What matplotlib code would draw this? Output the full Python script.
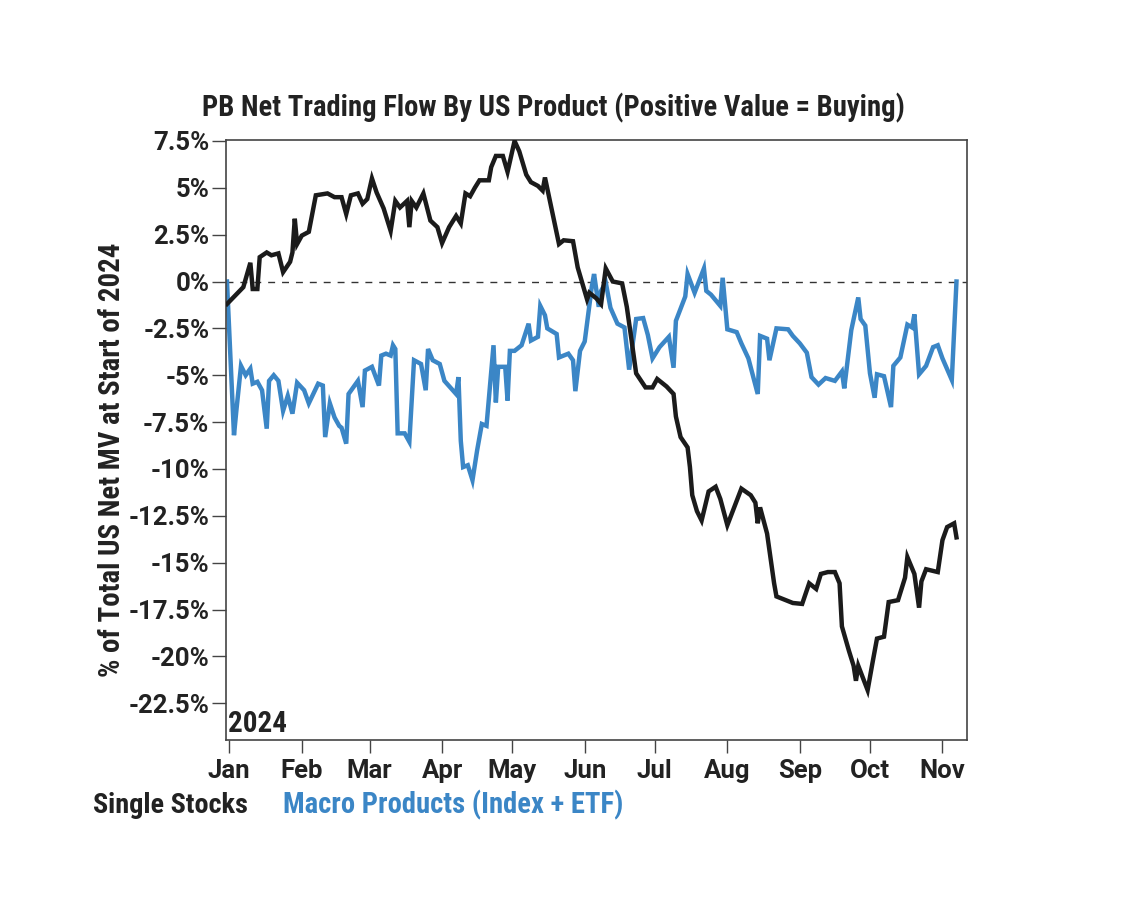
import matplotlib
matplotlib.use("Agg")
import matplotlib.pyplot as plt
import matplotlib.dates as mdates
from matplotlib import font_manager
import pandas as pd

# --- data (% of total US net MV at start of 2024) ---
stock_dates = [
    "2023-12-31", "2024-01-07", "2024-01-10", "2024-01-11", "2024-01-13", "2024-01-14",
    "2024-01-17", "2024-01-19", "2024-01-22", "2024-01-24", "2024-01-27", "2024-01-28",
    "2024-01-29", "2024-01-30", "2024-02-01", "2024-02-04", "2024-02-07", "2024-02-12",
    "2024-02-15", "2024-02-18", "2024-02-20", "2024-02-22", "2024-02-25", "2024-02-27",
    "2024-02-29", "2024-03-02", "2024-03-04", "2024-03-07", "2024-03-10", "2024-03-12",
    "2024-03-14", "2024-03-17", "2024-03-18", "2024-03-19", "2024-03-21", "2024-03-24",
    "2024-03-27", "2024-03-30", "2024-04-01", "2024-04-04", "2024-04-07", "2024-04-09",
    "2024-04-11", "2024-04-13", "2024-04-15", "2024-04-17", "2024-04-21", "2024-04-22",
    "2024-04-24", "2024-04-27", "2024-04-29", "2024-04-30", "2024-05-02", "2024-05-04",
    "2024-05-07", "2024-05-09", "2024-05-12", "2024-05-14", "2024-05-15", "2024-05-21",
    "2024-05-23", "2024-05-27", "2024-05-29", "2024-06-02", "2024-06-03", "2024-06-06",
    "2024-06-08", "2024-06-10", "2024-06-13", "2024-06-17", "2024-06-19", "2024-06-21",
    "2024-06-23", "2024-06-27", "2024-06-30", "2024-07-02", "2024-07-06", "2024-07-09",
    "2024-07-10", "2024-07-12", "2024-07-15", "2024-07-16", "2024-07-17", "2024-07-19",
    "2024-07-21", "2024-07-24", "2024-07-27", "2024-07-29", "2024-08-01", "2024-08-07",
    "2024-08-11", "2024-08-13", "2024-08-14", "2024-08-15", "2024-08-18", "2024-08-20",
    "2024-08-21", "2024-08-22", "2024-08-26", "2024-08-29", "2024-09-02", "2024-09-05",
    "2024-09-08", "2024-09-10", "2024-09-13", "2024-09-16", "2024-09-18", "2024-09-19",
    "2024-09-22", "2024-09-24", "2024-09-25", "2024-09-26", "2024-09-30", "2024-10-02",
    "2024-10-04", "2024-10-07", "2024-10-09", "2024-10-13", "2024-10-16", "2024-10-17",
    "2024-10-20", "2024-10-22", "2024-10-23", "2024-10-25", "2024-10-30", "2024-11-01",
    "2024-11-03", "2024-11-06", "2024-11-07",
]
stock_values = [
    -1.2, -0.3, 1.0, -0.4, -0.4, 1.3,
    1.55, 1.4, 1.5, 0.5, 1.05, 1.55,
    3.35, 2.0, 2.45, 2.65, 4.6, 4.7,
    4.5, 4.5, 3.6, 4.6, 4.7, 4.15,
    4.4, 5.5, 4.75, 3.9, 2.7, 4.3,
    3.95, 4.3, 2.9, 4.3, 3.95, 4.7,
    3.25, 2.9, 2.05, 2.9, 3.5, 3.1,
    4.7, 4.55, 5.0, 5.4, 5.4, 6.1,
    6.7, 6.7, 5.85, 6.4, 7.5, 6.95,
    5.7, 5.3, 5.1, 4.85, 5.55, 2.0,
    2.2, 2.15, 0.75, -0.95, -0.6, -0.9,
    -1.2, 0.7, 0.0, -0.1, -1.35, -3.1,
    -4.9, -5.65, -5.65, -5.2, -5.6, -6.0,
    -7.2, -8.3, -8.85, -9.9, -11.4, -12.25,
    -12.75, -11.2, -10.95, -11.6, -13.0, -11.05,
    -11.4, -11.8, -12.9, -12.05, -13.45, -15.2,
    -16.1, -16.8, -17.0, -17.15, -17.2, -16.1,
    -16.4, -15.6, -15.5, -15.5, -16.1, -18.4,
    -19.7, -20.5, -21.3, -20.5, -21.8, -20.4,
    -19.05, -18.95, -17.1, -17.0, -15.8, -14.7,
    -15.6, -17.4, -16.0, -15.35, -15.5, -13.8,
    -13.1, -12.9, -13.65,
]

macro_dates = [
    "2023-12-31", "2024-01-03", "2024-01-04", "2024-01-06", "2024-01-08", "2024-01-10",
    "2024-01-11", "2024-01-13", "2024-01-15", "2024-01-17", "2024-01-18", "2024-01-20",
    "2024-01-22", "2024-01-24", "2024-01-26", "2024-01-28", "2024-01-30", "2024-02-02",
    "2024-02-04", "2024-02-08", "2024-02-10", "2024-02-11", "2024-02-13", "2024-02-15",
    "2024-02-17", "2024-02-18", "2024-02-20", "2024-02-21", "2024-02-25", "2024-02-27",
    "2024-02-28", "2024-03-02", "2024-03-05", "2024-03-06", "2024-03-08", "2024-03-10",
    "2024-03-11", "2024-03-12", "2024-03-13", "2024-03-16", "2024-03-18", "2024-03-20",
    "2024-03-23", "2024-03-25", "2024-03-26", "2024-03-28", "2024-03-31", "2024-04-02",
    "2024-04-07", "2024-04-08", "2024-04-09", "2024-04-10", "2024-04-12", "2024-04-14",
    "2024-04-16", "2024-04-18", "2024-04-20", "2024-04-23", "2024-04-24", "2024-04-25",
    "2024-04-28", "2024-04-29", "2024-04-30", "2024-05-02", "2024-05-05", "2024-05-08",
    "2024-05-09", "2024-05-12", "2024-05-13", "2024-05-15", "2024-05-16", "2024-05-20",
    "2024-05-21", "2024-05-25", "2024-05-27", "2024-05-28", "2024-05-30", "2024-06-01",
    "2024-06-04", "2024-06-05", "2024-06-07", "2024-06-08", "2024-06-10", "2024-06-12",
    "2024-06-15", "2024-06-18", "2024-06-20", "2024-06-23", "2024-06-26", "2024-06-28",
    "2024-06-30", "2024-07-03", "2024-07-07", "2024-07-09", "2024-07-10", "2024-07-14",
    "2024-07-15", "2024-07-18", "2024-07-22", "2024-07-23", "2024-07-25", "2024-07-29",
    "2024-07-30", "2024-08-01", "2024-08-05", "2024-08-07", "2024-08-10", "2024-08-14",
    "2024-08-15", "2024-08-18", "2024-08-19", "2024-08-22", "2024-08-27", "2024-08-29",
    "2024-09-01", "2024-09-04", "2024-09-06", "2024-09-09", "2024-09-12", "2024-09-16",
    "2024-09-19", "2024-09-20", "2024-09-23", "2024-09-26", "2024-09-27", "2024-09-29",
    "2024-10-01", "2024-10-03", "2024-10-04", "2024-10-07", "2024-10-10", "2024-10-11",
    "2024-10-14", "2024-10-17", "2024-10-19", "2024-10-20", "2024-10-22", "2024-10-25",
    "2024-10-28", "2024-10-30", "2024-11-01", "2024-11-05", "2024-11-07",
]
macro_values = [
    0.0, -8.2, -6.9, -4.5, -5.0, -4.65,
    -5.45, -5.35, -5.8, -7.85, -5.3, -5.0,
    -5.3, -6.9, -6.1, -7.05, -5.4, -5.8,
    -6.5, -5.45, -5.55, -8.3, -6.5, -7.25,
    -7.7, -7.8, -8.65, -6.0, -5.3, -6.7,
    -4.75, -4.55, -5.55, -3.95, -3.85, -3.95,
    -3.4, -3.6, -8.1, -8.1, -8.55, -4.2,
    -4.4, -5.8, -3.6, -4.2, -4.4, -5.3,
    -6.0, -5.1, -8.5, -9.9, -9.8, -10.6,
    -9.0, -7.6, -7.7, -3.4, -6.45, -4.55,
    -4.55, -6.35, -3.7, -3.7, -3.4, -2.25,
    -3.15, -2.95, -1.3, -1.8, -2.5, -2.8,
    -4.05, -3.85, -4.2, -5.85, -3.7, -3.2,
    -0.3, 0.4, -1.35, -0.5, -0.05, -1.4,
    -2.25, -2.45, -4.7, -2.0, -1.95, -2.85,
    -4.1, -3.5, -2.95, -4.6, -2.1, -0.8,
    0.4, -0.6, 0.7, -0.5, -0.7, -1.3,
    0.2, -2.55, -2.7, -3.3, -4.1, -6.0,
    -2.9, -3.05, -4.2, -2.5, -2.55, -2.9,
    -3.3, -3.8, -5.1, -5.5, -5.15, -5.3,
    -4.8, -5.7, -2.6, -0.85, -2.0, -2.35,
    -4.9, -6.2, -4.95, -5.05, -6.7, -4.5,
    -4.05, -2.3, -2.45, -1.75, -4.95, -4.5,
    -3.5, -3.4, -4.1, -5.25, 0.0,
]

y_ticks = [7.5, 5, 2.5, 0, -2.5, -5, -7.5, -10, -12.5, -15, -17.5, -20, -22.5]
y_tick_labels = ["7.5%", "5%", "2.5%", "0%", "-2.5%", "-5%", "-7.5%", "-10%",
                 "-12.5%", "-15%", "-17.5%", "-20%", "-22.5%"]
month_ticks = ["2024-01-01", "2024-02-01", "2024-03-01", "2024-04-01", "2024-05-01",
               "2024-06-01", "2024-07-01", "2024-08-01", "2024-09-01", "2024-10-01",
               "2024-11-01"]

BLACK = "#1b1b1b"
BLUE = "#3b86c6"
TEXT = "#222222"

# pick a condensed bold face if one is installed, otherwise plain Roboto
installed = {f.name for f in font_manager.fontManager.ttflist}
COND = next((n for n in ["Roboto Condensed", "Liberation Sans Narrow"] if n in installed),
            "Roboto")
plt.rcParams["font.family"] = ["Roboto", "DejaVu Sans"]
plt.rcParams["font.weight"] = "bold"

fig = plt.figure(figsize=(11.39, 9.21), dpi=100)
ax = fig.add_axes([226 / 1139, 1 - 740 / 921, 741 / 1139, 600 / 921])

ax.axhline(0, color="#333333", lw=1.0, ls=(0, (5, 5)), zorder=1)
ax.plot(pd.to_datetime(macro_dates), macro_values, color=BLUE, lw=3.2,
        solid_joinstyle="miter", zorder=2)
ax.plot(pd.to_datetime(stock_dates), stock_values, color=BLACK, lw=3.2,
        solid_joinstyle="miter", zorder=3)

ax.set_xlim(pd.Timestamp("2023-12-30 14:00"), pd.Timestamp("2024-11-11 12:00"))
ax.set_ylim(-24.46, 7.55)

ax.set_yticks(y_ticks)
ax.set_yticklabels(y_tick_labels)
ax.set_xticks(pd.to_datetime(month_ticks))
ax.xaxis.set_major_formatter(mdates.DateFormatter("%b"))

for s in ax.spines.values():
    s.set_color("#444444")
    s.set_linewidth(1.2)
ax.tick_params(axis="y", length=10, width=1.0, color="#444444", pad=2,
               labelsize=18.5, labelcolor=TEXT)
ax.tick_params(axis="x", length=9.5, width=1.0, color="#444444", pad=4,
               labelsize=18.5, labelcolor=TEXT)
for lab in ax.get_xticklabels() + ax.get_yticklabels():
    lab.set_fontweight("bold")

yr = ax.text(2 / 741, 8 / 600, "2024", transform=ax.transAxes, ha="left",
             va="baseline", fontsize=18, fontweight="bold", color=TEXT,
             family=[COND, "Roboto"])

title = fig.text(201.7 / 1139, 1 - 116 / 921,
                 "PB Net Trading Flow By US Product (Positive Value = Buying)",
                 ha="left", va="baseline", fontsize=20, fontweight="bold",
                 color=TEXT, family=[COND, "Roboto"])
ylab = fig.text(112 / 1139, 1 - 460 / 921, "% of Total US Net MV at Start of 2024",
                rotation=90, ha="center", va="center", fontsize=20,
                fontweight="bold", color=TEXT, family=[COND, "Roboto"])
leg1 = fig.text(93 / 1139, 1 - 813 / 921, "Single Stocks", ha="left",
                va="baseline", fontsize=20, fontweight="bold", color=TEXT,
                family=[COND, "Roboto"])
leg2 = fig.text(283 / 1139, 1 - 813 / 921, "Macro Products (Index + ETF)",
                ha="left", va="baseline", fontsize=20, fontweight="bold",
                color=BLUE, family=[COND, "Roboto"])

# scale text so its drawn length matches the reference
fig.canvas.draw()
renderer = fig.canvas.get_renderer()
for t, target in [(title, 701), (ylab, 434), (leg1, 155), (leg2, 340), (yr, 59)]:
    bb = t.get_window_extent(renderer)
    length = max(bb.width, bb.height)
    t.set_fontsize(t.get_fontsize() * target / length)

fig.savefig("out.png", dpi=100, facecolor="white")
